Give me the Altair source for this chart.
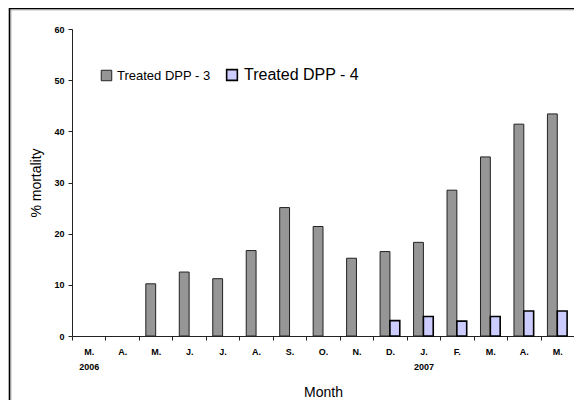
import altair as alt
import pandas as pd

months = ["2006-03", "2006-04", "2006-05", "2006-06", "2006-07", "2006-08", "2006-09",
          "2006-10", "2006-11", "2006-12", "2007-01", "2007-02", "2007-03", "2007-04", "2007-05"]
month_labels = ["M.\n2006", "A.", "M.", "J.", "J.", "A.", "S.", "O.", "N.", "D.",
                "J.\n2007", "F.", "M.", "A.", "M."]
dpp3 = [None, None, 10.2, 12.5, 11.2, 16.7, 25.1, 21.4, 15.2, 16.5, 18.3, 28.5, 35.0, 41.4, 43.4]
dpp4 = [None, None, None, None, None, None, None, None, None, 3.0, 3.8, 2.9, 3.8, 4.9, 4.9]
series = ["Treated DPP - 3", "Treated DPP - 4"]
y_ticks = [0, 10, 20, 30, 40, 50, 60]

rows = []
for m, a, b in zip(months, dpp3, dpp4):
    if a is not None:
        rows.append({"month": m, "series": series[0], "value": a})
    if b is not None:
        rows.append({"month": m, "series": series[1], "value": b})
df = pd.DataFrame(rows)

lab_arr = "[" + ",".join("'" + l.replace("\n", "\\n") + "'" for l in month_labels) + "]"
key_arr = "[" + ",".join("'" + m + "'" for m in months) + "]"
label_expr = (f"indexof({key_arr}, datum.value) < 0 ? '' : "
              f"split({lab_arr}[indexof({key_arr}, datum.value)], '\\n')")

FONT = "Liberation Sans"

x_enc = alt.X("month:N", sort=months, scale=alt.Scale(domain=months, paddingInner=0, paddingOuter=0),
              axis=alt.Axis(title="Month", labelExpr=label_expr, labelAngle=0, labelFont=FONT,
                            labelFontWeight="bold", labelFontSize=9, labelLineHeight=15,
                            labelPadding=7, tickBand="extent", tickSize=4, tickColor="#222",
                            domainColor="#222", titleFont=FONT, titleFontSize=14,
                            titleFontWeight="normal", titlePadding=14, labelColor="#000",
                            titleColor="#000"))
y_enc = alt.Y("value:Q", scale=alt.Scale(domain=[0, 60], nice=False),
              axis=alt.Axis(title="% mortality", values=y_ticks, labelFont=FONT,
                            labelFontWeight="bold", labelFontSize=9, tickSize=4, tickColor="#222",
                            domainColor="#222", labelPadding=4, titleFont=FONT, titleFontSize=14,
                            titleFontWeight="normal", titlePadding=10, labelColor="#000",
                            titleColor="#000"))
xoff = alt.XOffset("series:N", scale=alt.Scale(domain=series, paddingInner=0, paddingOuter=0.7))

base = alt.Chart(df)

bars3 = base.transform_filter(alt.datum.series == series[0]).mark_bar(
    stroke="#222", strokeWidth=1).encode(
    x=x_enc, y=y_enc, xOffset=xoff,
    color=alt.Color("series:N", scale=alt.Scale(domain=[series[0]], range=["#969696"]),
                    legend=alt.Legend(title=None, orient="none", legendX=28, legendY=40,
                                      direction="horizontal", symbolType="square",
                                      symbolSize=110, symbolStrokeColor="#222",
                                      symbolStrokeWidth=1, labelFont=FONT, labelFontSize=13,
                                      labelColor="#000", padding=0, labelOffset=4)))

bars4 = base.transform_filter(alt.datum.series == series[1]).mark_bar(
    stroke="#000", strokeWidth=1.6).encode(
    x=x_enc, y=y_enc, xOffset=xoff,
    color=alt.Color("series:N", scale=alt.Scale(domain=[series[1]], range=["#ccccff"]),
                    legend=alt.Legend(title=None, orient="none", legendX=152, legendY=38,
                                      direction="horizontal", symbolType="square",
                                      symbolSize=115, symbolStrokeColor="#000",
                                      symbolStrokeWidth=1.6, labelFont=FONT, labelFontSize=16,
                                      labelColor="#000", padding=0, labelOffset=4)))

frame_data = alt.Data(values=[{"k": 1}])
frame_top = alt.Chart(frame_data).mark_rule(stroke="#000", strokeWidth=1.6).encode(
    x=alt.value(-63), x2=alt.value(600), y=alt.value(-20.5))
frame_left = alt.Chart(frame_data).mark_rule(stroke="#000", strokeWidth=1.6).encode(
    x=alt.value(-62.5), y=alt.value(-21), y2=alt.value(600))
shade_top = alt.Chart(frame_data).mark_rule(stroke="#bbb", strokeWidth=1).encode(
    x=alt.value(-61.5), x2=alt.value(600), y=alt.value(-19))
shade_left = alt.Chart(frame_data).mark_rule(stroke="#bbb", strokeWidth=1).encode(
    x=alt.value(-61), y=alt.value(-19.5), y2=alt.value(600))

chart = alt.layer(shade_top, shade_left, frame_top, frame_left, bars3, bars4).resolve_scale(
    color="independent").properties(
    width=502, height=307,
    autosize=alt.AutoSizeParams(type="none"),
    padding={"left": 64, "top": 21, "right": 0, "bottom": 64},
).configure_view(strokeWidth=0).configure_axis(grid=False)

chart.save("out.html", embed_options={"renderer": "svg", "actions": False})
